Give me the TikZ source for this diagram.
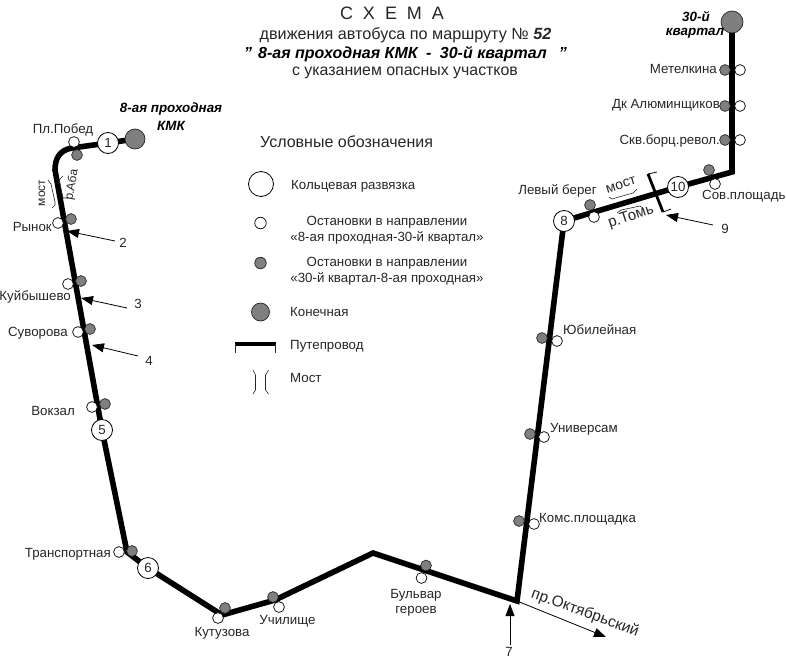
\documentclass[tikz,border=0pt]{standalone}
\usepackage{fontspec}
\setmainfont{Liberation Sans}
\usetikzlibrary{arrows.meta,backgrounds}
\definecolor{stopgray}{HTML}{7F7F7F}
\definecolor{inkc}{HTML}{262626}
\newcommand{\fsz}[1]{\fontsize{#1}{#1}\selectfont}
\tikzset{
  lbl/.style={inner sep=0pt,text=inkc,font=\fsz{13.3}},
  lblw/.style={lbl,anchor=west},
  lble/.style={lbl,anchor=east},
  lblc/.style={lbl,anchor=center},
  bi/.style={inner sep=0pt,text=black,font=\fsz{13.4}\bfseries\itshape},
  wstop/.style={circle,draw=black,line width=0.7pt,fill=white,minimum size=10.8pt,inner sep=0pt},
  gstop/.style={circle,draw=inkc,line width=0.7pt,fill=stopgray,minimum size=10.8pt,inner sep=0pt},
  ring/.style={circle,draw=black,line width=0.8pt,fill=white,minimum size=21pt,inner sep=0pt,text=inkc,font=\fsz{13.3}},
  term/.style={circle,draw=inkc,line width=0.7pt,fill=stopgray,minimum size=20pt,inner sep=0pt},
  route/.style={line width=5.6pt,draw=black,line join=miter},
  pointer/.style={line width=0.8pt,draw=black,-{Triangle[length=12pt,width=9pt]}},
  brk/.style={line width=0.6pt,draw=inkc,line join=round},
}
\begin{document}
\begin{tikzpicture}[x=1pt,y=-1pt]
\useasboundingbox (0,0) rectangle (786,661);
% title
\node[inner sep=0pt,text=inkc,font=\fsz{18}] (t1) at (392,13) {С\hspace{10pt}Х\hspace{10pt}Е\hspace{10pt}М\hspace{10pt}А};
\node[inner sep=0pt,text=inkc,font=\fsz{16.2}] (t2) at (405.5,35) {движения автобуса по маршруту № \textbf{\textit{52}}};
\node[inner sep=0pt,text=black,font=\fsz{16}\bfseries\itshape] (t3) at (405.5,54) {"\hspace{6pt}8-ая проходная КМК\hspace{4pt} - \hspace{4pt}30-й квартал\hspace{12pt}"};
\node[inner sep=0pt,text=inkc,font=\fsz{15.9}] (t4) at (405,73) {с указанием опасных участков};
% route nodes
\node[term] (tA) at (135,139) {};
\node[ring] (r1) at (108,143) {1};
\node[ring] (r5) at (102,430) {5};
\node[ring] (r6) at (148,568) {6};
\node[ring] (r8) at (564,221) {8};
\node[ring] (r10) at (678,187) {10};
\node[term,minimum size=22pt] (tB) at (732,22) {};
\coordinate (a) at (72,148);
\coordinate (b) at (55,170);
\coordinate (c) at (127,552);
\coordinate (d) at (222,615);
\coordinate (e) at (275,600);
\coordinate (f) at (373,553);
\coordinate (g) at (517,601);
\coordinate (h) at (732,172);
\begin{scope}[on background layer]
\draw[route] (tA.center) -- (r1.center) -- (a) .. controls (60,150) and (55,158) .. (b) -- (r5.center) -- (c) -- (r6.center) -- (d) -- (e) -- (f) -- (g) -- (r8.center) -- (r10.center) -- (h) -- (tB.center);
\end{scope}
% stops
\foreach \n/\x/\y in {w1/74/142,w2/58/223,w3/68/284,w4/78/332,w5/92/407,w6/119/552,w7/218/618,w8/279/607,w9/421.5/578,w10/534/524,w11/544/437,w12/557/341,w13/594/217,w14/715/184,w15/740/140,w16/740/106,w17/740/70}
  \node[wstop] (\n) at (\x,\y) {};
\foreach \n/\x/\y in {g1/77/155,g2/71/219,g3/81/281,g4/90/329,g5/105/404,g6/132/551,g7/225/608,g8/273/597,g9/426/565.5,g10/519/521,g11/530/434,g12/542/338,g13/590/205,g14/709/170,g15/725/140,g16/725/106,g17/725/70}
  \node[gstop] (\n) at (\x,\y) {};
% stop labels
\node[lblc] (l1) at (63,130) {Пл.Побед};
\node[lble] (l2) at (52,227) {Рынок};
\node[lble] (l3) at (71,297) {Куйбышево};
\node[lble] (l4) at (68,333) {Суворова};
\node[lble] (l5) at (75,411) {Вокзал};
\node[lble] (l6) at (111,554) {Транспортная};
\node[lblc] (l7) at (222,633) {Кутузова};
\node[lblc] (l8) at (287.5,621) {Училище};
\node[lblc] (l9) at (416,595) {Бульвар};
\node[lblc] (l9b) at (416,611) {героев};
\node[lblw] (l10) at (539,519) {Комс.площадка};
\node[lblw] (l11) at (550,429) {Универсам};
\node[lblw] (l12) at (563,330) {Юбилейная};
\node[lblc] (l13) at (557.5,191) {Левый берег};
\node[lblw] (l14) at (702,196) {Сов.площадь};
\node[lble] (l15) at (720,141) {Скв.борц.револ.};
\node[lble] (l16) at (720,105) {Дк Алюминщиков};
\node[lble] (l17) at (717,69) {Метелкина};
\node[bi] (k1) at (171,109) {8-ая проходная};
\node[bi] (k2) at (171,126) {КМК};
\node[bi] (k3) at (696,17) {30-й};
\node[bi] (k4) at (695,33) {квартал};
% numbered pointers
\node[lblc] (n2) at (123,243) {2};
\node[lblc] (n3) at (138,304) {3};
\node[lblc] (n4) at (149,361) {4};
\node[lblc] (n9) at (725,229) {9};
\node[lblc] (n7) at (509,652) {7};
\coordinate (p2a) at (115,241); \coordinate (p2b) at (67,231);
\coordinate (p3a) at (127,308); \coordinate (p3b) at (81,298);
\coordinate (p4a) at (138,356); \coordinate (p4b) at (92,345);
\coordinate (p9a) at (713,225); \coordinate (p9b) at (666,215);
\coordinate (p7a) at (510,645); \coordinate (p7b) at (510,604);
\coordinate (p8b) at (606,637);
\draw[pointer] (p2a) -- (p2b);
\draw[pointer] (p3a) -- (p3b);
\draw[pointer] (p4a) -- (p4b);
\draw[pointer] (p9a) -- (p9b);
\draw[pointer] (p7a) -- (p7b);
\draw[pointer] (g) -- (p8b);
\node[lblc,font=\fsz{15.5},rotate=-20] (okt) at (585,613) {пр.Октябрьский};
% river Aba bridge
\node[lblc,font=\fsz{12},rotate=90] (m1) at (42,193) {мост};
\node[lblc,font=\fsz{12},rotate=80] (ab) at (72,185) {р.Аба};
\coordinate (ba1) at (48,180); \coordinate (ba2) at (55,205);
\draw[brk] (ba1) -- (51,184) -- (55,202) -- (ba2) -- (52,208);
\coordinate (bb1) at (63,176); \coordinate (bb2) at (68,198);
\draw[brk] (bb1) -- (59,180) -- (63,198) -- (bb2);
% river Tom bridge
\coordinate (q1) at (648,174); \coordinate (q2) at (663,212);
\draw[line width=2.8pt,draw=black] (q1) -- (q2);
\draw[line width=0.8pt,draw=black] (q1) -- (657,172);
\draw[line width=0.8pt,draw=black] (q2) -- (671,209);
\node[lblc,font=\fsz{14},rotate=17] (m2) at (621,185) {мост};
\node[lblc,font=\fsz{15},rotate=18] (tm) at (631,217) {р.Томь};
\draw[brk] (609,197) -- (612,199) -- (633,193) -- (637,189);
\draw[brk] (617,213) -- (621,210) -- (640,206) -- (643,208);
% legend
\node[inner sep=0pt,anchor=west,text=inkc,font=\fsz{16}] (h1) at (260,142) {Условные обозначения};
\node[ring,minimum size=25pt] (lg1) at (261,184) {};
\node[lblw] (lt1) at (291,186) {Кольцевая развязка};
\node[wstop,minimum size=11.5pt] (lg2) at (260.5,223) {};
\node[lblc] (lt2) at (387,222) {Остановки в направлении};
\node[lblc] (lt2b) at (387,238) {«8-ая проходная-30-й квартал»};
\node[gstop,minimum size=11.5pt] (lg3) at (260.5,263) {};
\node[lblc] (lt3) at (387,263) {Остановки в направлении};
\node[lblc] (lt3b) at (387,279) {«30-й квартал-8-ая проходная»};
\node[term,minimum size=18pt] (lg4) at (260.5,312) {};
\node[lblw] (lt4) at (290,312) {Конечная};
\coordinate (lp1) at (235,344); \coordinate (lp2) at (276,344);
\draw[line width=3.5pt,draw=black] (lp1) -- (lp2);
\draw[line width=0.8pt,draw=inkc] (235.5,344) -- (235.5,353);
\draw[line width=0.8pt,draw=inkc] (275.5,344) -- (275.5,353);
\node[lblw] (lt5) at (290,346) {Путепровод};
\draw[brk] (253,370) -- (255.5,375) -- (255.5,390) -- (253,394);
\draw[brk] (268.5,370) -- (265.5,375) -- (265.5,390) -- (268.5,394);
\node[lblw] (lt6) at (290,378) {Мост};
\end{tikzpicture}
\end{document}
